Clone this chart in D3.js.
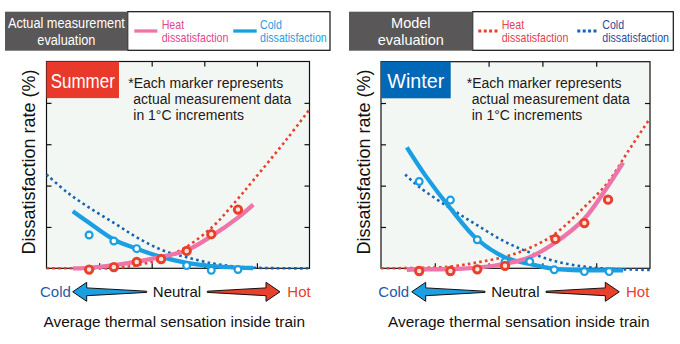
<!DOCTYPE html>
<html>
<head>
<meta charset="utf-8">
<script src="https://cdn.jsdelivr.net/npm/d3@7"></script>
<style>
body{margin:0;background:#fff}
svg{display:block;font-family:"Liberation Sans",Arial,sans-serif}
</style>
</head>
<body>
<div id="chart"></div>
<script>
// x = thermal sensation (-2.5 cold .. 2.5 hot), y = dissatisfaction rate (%)
var xTicks = [-1.5, -0.5, 0.5, 1.5];
var yTicks = [20, 40, 60, 80];

// Summer: measured markers (1 degC steps)
var sumHeatX = [-1.69, -1.22, -0.785, -0.32, 0.165, 0.633, 1.14];
var sumHeat  = [-0.6, 0.6, 3.1, 4.5, 8.4, 16.5, 28.4];
var sumColdX = [-1.69, -1.22, -0.785, 0.165, 0.633, 1.14];
var sumCold  = [16.1, 13.2, 9.5, 1.3, -1.0, -0.6];
// Summer: fitted curve from measurement
var sumFitX    = [-2.0, -1.69, -1.22, -0.785, -0.32, 0.165, 0.633, 1.14, 1.43];
var sumHeatFit = [0, 0.2, 1.5, 3.2, 5.5, 8.7, 15.5, 24.5, 30.8];
var sumColdFit = [27.6, 22.0, 13.9, 9.5, 5.5, 2.6, 1.0, 0.3, 0.15];
// Summer: model
var sumModelX    = [-2.5, -2.12, -1.71, -1.22, -0.785, -0.32, 0.165, 0.67, 1.05, 1.43, 2.07, 2.5];
var sumHeatModel = [0, 0, 0, 0.1, 1.5, 4.6, 10.5, 20.4, 31.0, 42.5, 62.5, 76.8];
var sumColdModel = [45.4, 37.0, 29.7, 22.0, 15.0, 9.0, 5.3, 2.3, 1.0, 0.3, 0, 0];

// Winter: measured markers
var winHeatX = [-1.79, -1.21, -0.71, -0.195, 0.74, 1.28, 1.72];
var winHeat  = [-1.3, -1.3, -0.5, 1.2, 14.2, 21.9, 33.2];
var winColdX = [-1.79, -1.21, -0.71, -0.195, 0.264, 0.72, 1.28, 1.74];
var winCold  = [42.0, 33.0, 13.8, 3.2, 3.3, -0.7, -1.6, -1.6];
// Winter: fitted curve from measurement
var winFitX    = [-2.02, -1.68, -1.21, -0.71, -0.195, 0.264, 0.72, 1.28, 1.71, 2.0];
var winHeatFit = [-0.7, -0.5, -0.4, 0.3, 2.2, 5.4, 12.1, 24.0, 39.5, 51.2];
var winColdFit = [58.5, 45.1, 29.0, 14.0, 5.3, 2.1, -0.3, -1.0, -1.0, -1.0];
// Winter: model
var winHeatModelX = [-2.5, -1.8, -1.22, -0.72, -0.195, 0.26, 0.73, 1.27, 1.72, 2.09, 2.5];
var winHeatModel  = [0, 0.2, 0.8, 2.8, 5.6, 9.8, 16.6, 29.4, 41.7, 56.5, 72.6];
var winColdModelX = [-2.05, -1.79, -1.21, -0.715, -0.2, 0.26, 0.74, 1.28, 1.72, 2.5];
var winColdModel  = [45.4, 39.4, 29.0, 20.9, 12.9, 7.7, 3.4, 0.8, -0.2, -0.8];

var col = {pink:"#ef74a9", cyan:"#1a9fe2", red:"#e8402a", navy:"#1762b3",
           dark:"#595757", bg:"#f3f7f3", ink:"#231815"};

var svg = d3.select("#chart").append("svg").attr("width", 680).attr("height", 344);
svg.append("rect").attr("width", 680).attr("height", 344).attr("fill", "#fff");

// text helper, sx squeezes the glyphs horizontally (the original uses a condensed face)
function label(g, x, y, s, size, fill, anchor, sx) {
  return g.append("text")
    .attr("transform", "translate(" + x + "," + y + ")" + (sx ? " scale(" + sx + ",1)" : ""))
    .text(s).attr("font-size", size).attr("fill", fill).attr("text-anchor", anchor || "start");
}

function zip(xs, ys) { return xs.map(function(v, i){ return [v, ys[i]]; }); }

var panels = [
  {tag:"Summer", tagFill:"#e8392a", tagRight:119, tagSx:0.81,
   left:46.5, right:309.5, top:61.5, bottom:268.3, noteX:128.3, yLabX:35,
   heatM:zip(sumHeatX, sumHeat), coldM:zip(sumColdX, sumCold),
   heatFit:zip(sumFitX, sumHeatFit), coldFit:zip(sumFitX, sumColdFit),
   heatModel:zip(sumModelX, sumHeatModel), coldModel:zip(sumModelX, sumColdModel),
   cold:40, neutral:177, hot:287.3, blueTip:72.7, blueTail:146.7, redTail:207.3, redTip:280, title:174.2},
  {tag:"Winter", tagFill:"#0068b7", tagRight:450.7, tagSx:0.94,
   left:381, right:650, top:61.7, bottom:268.3, noteX:466.7, yLabX:370,
   heatM:zip(winHeatX, winHeat), coldM:zip(winColdX, winCold),
   heatFit:zip(winFitX, winHeatFit), coldFit:zip(winFitX, winColdFit),
   heatModel:zip(winHeatModelX, winHeatModel), coldModel:zip(winColdModelX, winColdModel),
   cold:378.3, neutral:515.3, hot:626, blueTip:411.7, blueTail:485, redTail:546, redTip:619.3, title:518.8}
];

panels.forEach(function(p) {
  var g = svg.append("g");
  var x = d3.scaleLinear().domain([-2.5, 2.5]).range([p.left, p.right]);
  var y = d3.scaleLinear().domain([0, 100]).range([p.bottom, p.top]);

  g.append("rect").attr("x", p.left).attr("y", p.top)
    .attr("width", p.right - p.left).attr("height", p.bottom - p.top)
    .attr("fill", col.bg).attr("stroke", "#111").attr("stroke-width", 1.2);

  // inward ticks on all four sides
  var axes = [
    [d3.axisBottom(x).tickValues(xTicks), "translate(0," + p.bottom + ")"],
    [d3.axisTop(x).tickValues(xTicks), "translate(0," + p.top + ")"],
    [d3.axisLeft(y).tickValues(yTicks), "translate(" + p.left + ",0)"],
    [d3.axisRight(y).tickValues(yTicks), "translate(" + p.right + ",0)"]
  ];
  axes.forEach(function(a) {
    var ax = g.append("g").attr("transform", a[1])
      .call(a[0].tickSize(-5).tickSizeOuter(0).tickFormat(""));
    ax.select(".domain").remove();
    ax.selectAll("line").attr("stroke", "#111").attr("stroke-width", 1.2);
  });

  var line = d3.line().x(function(d){ return x(d[0]); }).y(function(d){ return y(d[1]); })
    .curve(d3.curveCatmullRom.alpha(0.5));

  // model curves (dotted)
  g.append("path").attr("d", line(p.coldModel)).attr("fill", "none")
    .attr("stroke", col.navy).attr("stroke-width", 2.6).attr("stroke-dasharray", "2.6 3.2");
  g.append("path").attr("d", line(p.heatModel)).attr("fill", "none")
    .attr("stroke", col.red).attr("stroke-width", 2.6).attr("stroke-dasharray", "2.6 3.2");

  // measurement fit (solid)
  g.append("path").attr("d", line(p.coldFit)).attr("fill", "none")
    .attr("stroke", col.cyan).attr("stroke-width", 4.3);
  g.append("path").attr("d", line(p.heatFit)).attr("fill", "none")
    .attr("stroke", col.pink).attr("stroke-width", 4.3);

  // markers
  g.selectAll(".cm").data(p.coldM).enter().append("circle")
    .attr("cx", function(d){ return x(d[0]); }).attr("cy", function(d){ return y(d[1]); })
    .attr("r", 3.4).attr("fill", "#fff").attr("stroke", col.cyan).attr("stroke-width", 2.2);
  g.selectAll(".hm").data(p.heatM).enter().append("circle")
    .attr("cx", function(d){ return x(d[0]); }).attr("cy", function(d){ return y(d[1]); })
    .attr("r", 3.7).attr("fill", "#fbe3dc").attr("stroke", col.red).attr("stroke-width", 2.9);

  // season tag
  g.append("rect").attr("x", p.left).attr("y", p.top)
    .attr("width", p.tagRight - p.left).attr("height", 36.6).attr("fill", p.tagFill);
  label(g, (p.left + p.tagRight) / 2, 88.3, p.tag, 21, "#fff", "middle", p.tagSx);

  // note
  label(g, p.noteX, 88.3, "*Each marker represents", 14, col.ink);
  label(g, p.noteX + 5, 104.3, "actual measurement data", 14, col.ink);
  label(g, p.noteX + 5, 120.3, "in 1\u00b0C increments", 14, col.ink);

  // y label
  label(g, 0, 0, "Dissatisfaction rate (%)", 18, "#111", "middle")
    .attr("transform", "translate(" + p.yLabX + ",162) rotate(-90)");

  // sensation arrows
  function arrow(tail, tip, fill) {
    var cy = 291.8, d = tip > tail ? 1 : -1, base = tip - d * 14;
    var pts = [[tail, cy - 0.6], [base, cy - 3.9], [base, cy - 9.5], [tip, cy],
               [base, cy + 9.5], [base, cy + 3.9], [tail, cy + 0.6]];
    g.append("path").attr("d", d3.line()(pts) + "Z").attr("fill", fill)
      .attr("stroke", "#111").attr("stroke-width", 1).attr("stroke-linejoin", "miter");
  }
  arrow(p.blueTail, p.blueTip, col.cyan);
  arrow(p.redTail, p.redTip, col.red);
  label(g, p.cold, 297, "Cold", 15, "#1f5aa8");
  label(g, p.neutral, 297, "Neutral", 15, "#111", "middle");
  label(g, p.hot, 297, "Hot", 15, col.red);
  label(g, p.title, 326.5, "Average thermal sensation inside train", 15.4, "#111", "middle");
});

// legends
var legends = [
  {x0:5, x1:127.7, x2:330, title:["Actual measurement", "evaluation"], titleSx:0.88,
   dash:null, heatCol:col.pink, coldCol:col.cyan, heatTxt:"#e8448c", coldTxt:"#2a9de0",
   hs:[134.3, 157.3], cs:[233.3, 256.7], ht:161.7, ct:260},
  {x0:349, x1:472.7, x2:673.3, title:["Model", "evaluation"], titleSx:null,
   dash:"3 2.4", heatCol:col.red, coldCol:col.navy, heatTxt:"#e8404c", coldTxt:"#1f4ea0",
   hs:[478.3, 499.3], cs:[577.3, 597.7], ht:501.7, ct:602.3}
];
legends.forEach(function(L) {
  var g = svg.append("g");
  g.append("rect").attr("x", L.x1).attr("y", 11.7).attr("width", L.x2 - L.x1).attr("height", 38.6)
    .attr("fill", "#fff").attr("stroke", "#111").attr("stroke-width", 1.2);
  g.append("rect").attr("x", L.x0).attr("y", 11.7).attr("width", L.x1 - L.x0).attr("height", 39)
    .attr("fill", col.dark);
  var cx = (L.x0 + L.x1) / 2;
  label(g, cx, 28.3, L.title[0], 14.5, "#fff", "middle", L.titleSx);
  label(g, cx, 45, L.title[1], 14.5, "#fff", "middle", L.titleSx);
  [[L.hs, L.heatCol, L.ht, "Heat", L.heatTxt], [L.cs, L.coldCol, L.ct, "Cold", L.coldTxt]]
    .forEach(function(it) {
      g.append("line").attr("x1", it[0][0]).attr("x2", it[0][1]).attr("y1", 31).attr("y2", 31)
        .attr("stroke", it[1]).attr("stroke-width", L.dash ? 3 : 3.3)
        .attr("stroke-dasharray", L.dash);
      label(g, it[2], 29.3, "" + it[3], 12.5, it[4], "start", 0.85);
      label(g, it[2], 42.3, "dissatisfaction", 12.5, it[4], "start", 0.85);
    });
});
</script>
</body>
</html>
